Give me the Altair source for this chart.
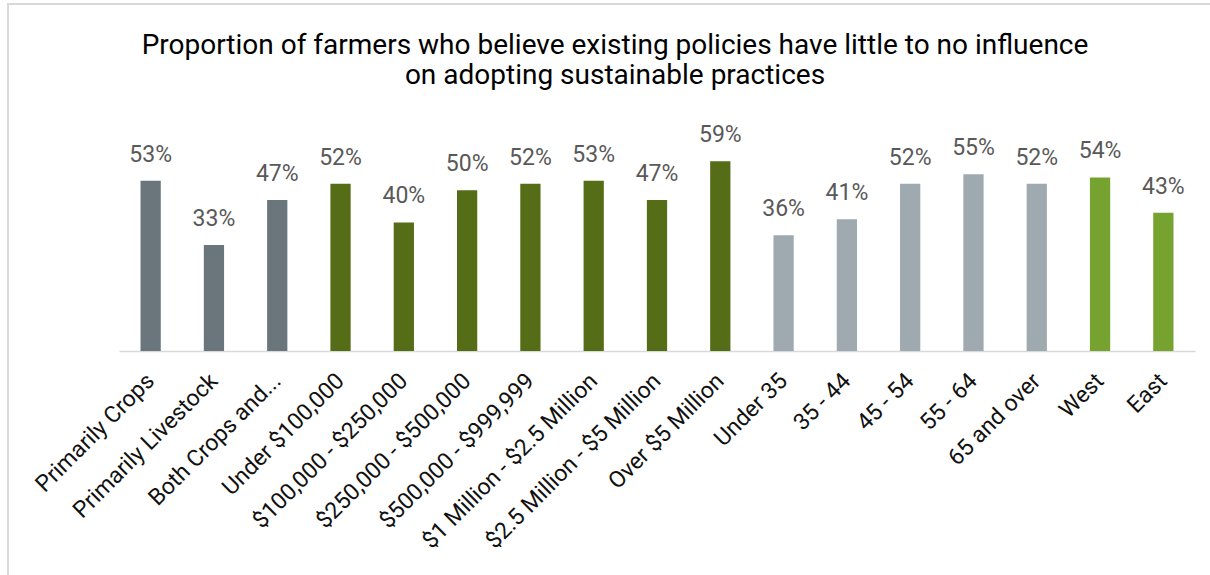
import altair as alt
import pandas as pd

categories = [
    "Primarily Crops", "Primarily Livestock", "Both Crops and...",
    "Under $100,000", "$100,000 - $250,000", "$250,000 - $500,000",
    "$500,000 - $999,999", "$1 Million - $2.5 Million", "$2.5 Million - $5 Million",
    "Over $5 Million", "Under 35", "35 - 44", "45 - 54", "55 - 64",
    "65 and over", "West", "East",
]
values = [0.53, 0.33, 0.47, 0.52, 0.40, 0.50, 0.52, 0.53, 0.47, 0.59,
          0.36, 0.41, 0.52, 0.55, 0.52, 0.54, 0.43]
groups = ["Farm type"] * 3 + ["Revenue"] * 7 + ["Age"] * 5 + ["Region"] * 2
group_names = ["Farm type", "Revenue", "Age", "Region"]
group_colors = ["#6b767c", "#556d16", "#9ea9b0", "#76a22f"]

df = pd.DataFrame({"category": categories, "value": values, "group": groups})

W, H = 1076, 225
PAD_L, PAD_T = 119, 126

x = alt.X("category:N", sort=categories, title=None,
          scale=alt.Scale(paddingInner=0.68, paddingOuter=0.34),
          axis=alt.Axis(labelAngle=-45, labelAlign="right", labelBaseline="middle",
                        labelFont="Roboto", labelFontSize=23, labelColor="#111111",
                        labelPadding=26, ticks=False, domainColor="#d9d9d9",
                        domainWidth=1.5, labelLimit=400))
y = alt.Y("value:Q", title=None, scale=alt.Scale(domain=[0, 0.70]), axis=None)

base = alt.Chart(df)

bars = base.mark_bar().encode(
    x=x, y=y,
    color=alt.Color("group:N", scale=alt.Scale(domain=group_names, range=group_colors), legend=None),
)
labels = base.mark_text(baseline="bottom", dy=-14, font="Roboto", fontSize=23,
                        color="#595959").encode(
    x=alt.X("category:N", sort=categories), y=y,
    text=alt.Text("value:Q", format=".0%"),
)
border = alt.Chart(pd.DataFrame({"k": [0]})).mark_rect(
    fillOpacity=0, stroke="#d9d9d9", strokeWidth=2
).encode(
    x=alt.value(8 - PAD_L), x2=alt.value(1220 - PAD_L),
    y=alt.value(4 - PAD_T), y2=alt.value(590 - PAD_T),
)

chart = alt.layer(border, bars, labels).properties(
    width=W, height=H,
    autosize=alt.AutoSizeParams(type="none"),
    padding={"left": PAD_L, "top": PAD_T, "right": 1210 - PAD_L - W, "bottom": 575 - PAD_T - H},
    title=alt.TitleParams(
        ["Proportion of farmers who believe existing policies have little to no influence",
         "on adopting sustainable practices"],
        font="Roboto", fontSize=28, fontWeight="normal", color="#000000",
        anchor="middle", frame="group", dx=-42, offset=0, dy=87, lineHeight=30,
    ),
).configure(background="white").configure_view(strokeWidth=0)

chart.save("out.html", embed_options={"renderer": "svg", "actions": False})
